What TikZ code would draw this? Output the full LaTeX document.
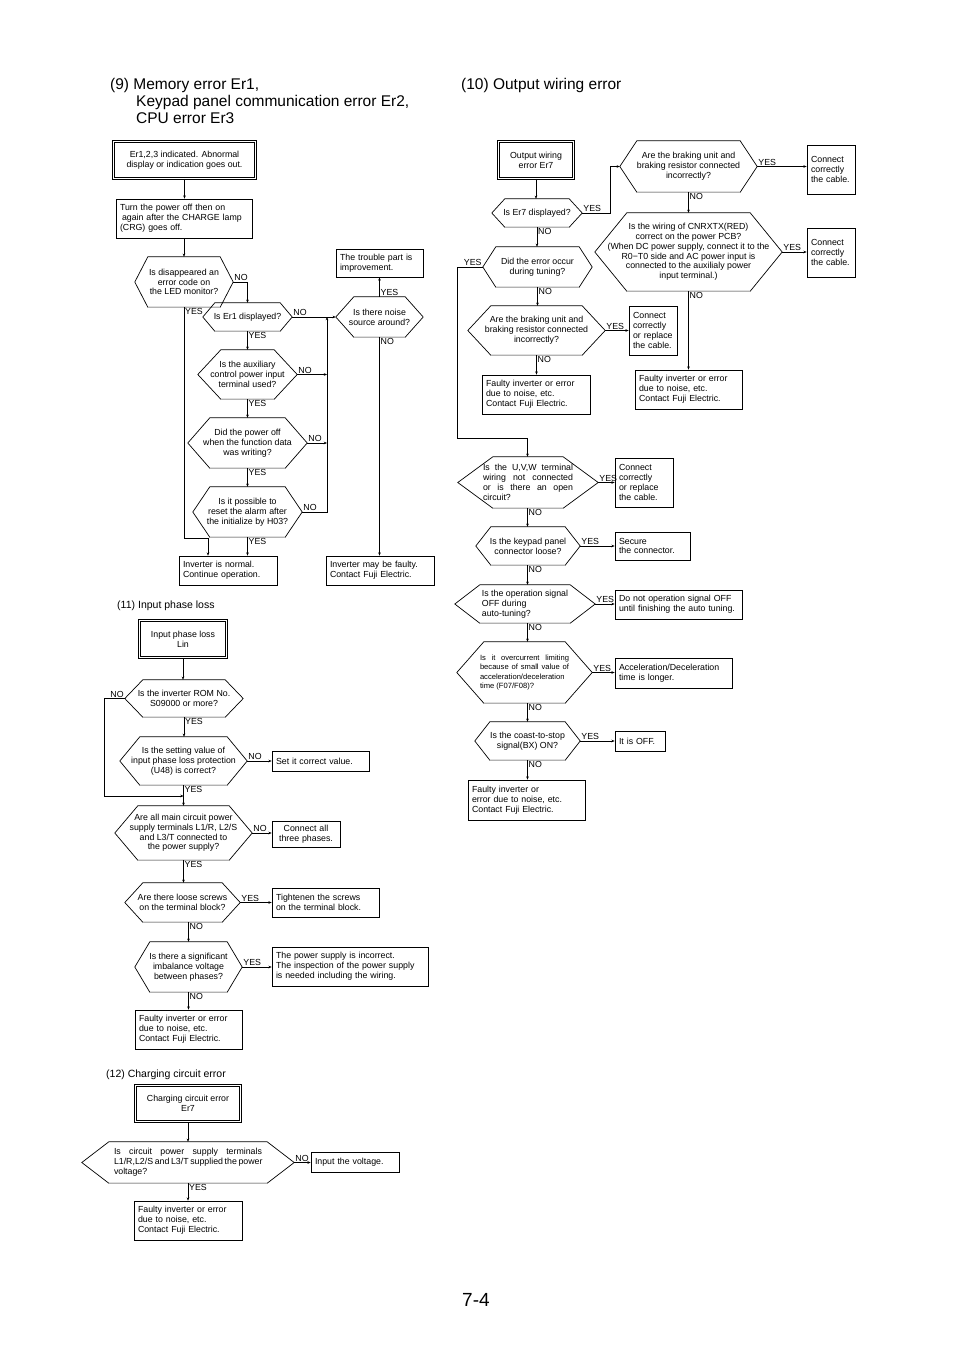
\documentclass[tikz,border=0pt]{standalone}
\usepackage{fontspec}
\setmainfont{Liberation Sans}
\usetikzlibrary{arrows.meta,calc}
\newcommand{\nf}{\fontsize{8.8}{9.8}\selectfont}
\newcommand{\smallnf}{\fontsize{7.6}{9.6}\selectfont}
\tikzset{
 boxl/.style={draw, line width=0.7pt, font=\nf, inner xsep=4pt, inner ysep=0pt, align=left},
 boxd/.style={draw, double, double distance=1.6pt, line width=0.6pt, font=\nf, inner sep=0pt, align=center},
 hextext/.style={font=\nf, inner sep=0pt, align=center},
 hexline/.style={line width=0.7pt, line join=miter},
 hexshade/.style={line width=1.3pt, gray!60},
 arr/.style={line width=0.7pt, -{Stealth[length=3.2pt,width=2.6pt]}},
 lbl/.style={font=\nf, inner sep=1pt},
 head/.style={font=\fontsize{15.5}{17}\selectfont, inner sep=0pt, anchor=base west},
 subhead/.style={font=\fontsize{10.5}{12}\selectfont, inner sep=0pt, anchor=base west},
}
\newcommand{\mybox}[7][]{%
 \pgfmathsetmacro{\myW}{#5-#3-8}%
 \pgfmathsetmacro{\myH}{#6-#4}%
 \pgfmathsetmacro{\myX}{(#3+#5)/2}%
 \pgfmathsetmacro{\myY}{(#4+#6)/2}%
 \node[boxl, text width=\myW pt, minimum height=\myH pt, #1] (#2) at (\myX,\myY) {#7};}
\newcommand{\mydbox}[6]{%
 \pgfmathsetmacro{\myW}{#4-#2-3}%
 \pgfmathsetmacro{\myH}{#5-#3-3}%
 \pgfmathsetmacro{\myX}{(#2+#4)/2}%
 \pgfmathsetmacro{\myY}{(#3+#5)/2}%
 \node[boxd, minimum width=\myW pt, minimum height=\myH pt] (#1) at (\myX,\myY) {#6};}
\newcommand{\myhex}[8][]{%
 \pgfmathsetmacro{\myW}{#5-#3}%
 \pgfmathsetmacro{\myH}{#6-#4}%
 \pgfmathsetmacro{\myX}{(#3+#5)/2}%
 \pgfmathsetmacro{\myY}{(#4+#6)/2}%
 \node[hextext, minimum width=\myW pt, minimum height=\myH pt, #1] (#2) at (\myX,\myY) {#8};
 \draw[hexline] (#2.west) -- ([xshift=#7pt]#2.north west) -- ([xshift=-#7pt]#2.north east) -- (#2.east) -- ([xshift=-#7pt]#2.south east) -- ([xshift=#7pt]#2.south west) -- cycle;
 \draw[hexshade] ([xshift=#7pt]#2.south west) -- ([xshift=-#7pt]#2.south east);}
\newcommand{\lab}[4]{\node[lbl, anchor=#2] (#1) at (#3) {#4};}
\begin{document}
\begin{tikzpicture}[x=1pt,y=-1pt]
\fill[white] (0,0) rectangle (954,1350);
\useasboundingbox (0,0) rectangle (954,1350);

% headings
\node[head] (h9a) at (110,89.5) {(9) Memory error Er1,};
\node[head] (h9b) at (136,106.5) {Keypad panel communication error Er2,};
\node[head] (h9c) at (136,123.5) {CPU error Er3};
\node[head] (h10) at (461,89.5) {(10) Output wiring error};
\node[subhead] (h11) at (117,608) {(11)\hspace{3pt}Input phase loss};
\node[subhead] (h12) at (106,1077) {(12) Charging circuit error};
\node[anchor=base west, inner sep=0pt, font=\fontsize{19}{22}\selectfont] (pg) at (462,1306) {7-4};

% ---------------- (9)
\mydbox{A1}{112}{140}{257}{180}{Er1,2,3 indicated. Abnormal\\display or indication goes out.}
\mybox{A2}{116}{199}{252}{238}{Turn the power off then on\\\hspace*{2pt}again after the CHARGE lamp\\(CRG) goes off.}
\myhex{D1}{135}{257}{233}{307}{13}{Is disappeared an\\error code on\\the LED monitor?}
\myhex{D2}{203}{303}{292}{331}{12}{Is Er1 displayed?}
\myhex{D3}{198}{350}{297}{399}{23}{Is the auxiliary\\control power input\\terminal used?}
\myhex{D4}{188}{418}{307}{468}{22}{Did the power off\\when the function data\\was writing?}
\myhex{D5}{193}{487}{302}{537}{17}{Is it possible to\\reset the alarm after\\the initialize by H03?}
\mybox{AN}{179}{556}{277}{585}{Inverter is normal.\\Continue operation.}
\myhex{NS}{336}{297}{423}{337}{18}{Is there noise\\source around?}
\mybox{TR}{336}{249}{423}{277}{The trouble part is\\improvement.}
\mybox{F9}{326}{556}{434}{585}{Inverter may be faulty.\\Contact Fuji Electric.}

\coordinate (j1) at (208,538);
\coordinate (col9) at (327,317);
\draw[arr] (A1.south) -- (A1.south |- A2.north);
\draw[arr] (A2.south) -- (A2.south |- D1.north);
\draw[arr] (D1.east) -| (D2.north);
\draw[arr] (D1.south) |- (j1) -- (j1 |- AN.north);
\draw[arr] (D2.south) -- (D3.north);
\draw[arr] (D3.south) -- (D4.north);
\draw[arr] (D4.south) -- (D5.north);
\draw[arr] (D5.south) -- (D5.south |- AN.north);
\draw[arr] (D2.east) -- (D2.east -| NS.west);
\draw[arr] (D3.east) -- (D3.east -| col9);
\draw[arr] (D4.east) -- (D4.east -| col9);
\draw[arr] (D5.east) -| (col9);
\draw[arr] (NS.north) -- (NS.north |- TR.south);
\draw[arr] (NS.south) -- (NS.south |- F9.north);

\lab{l1}{south west}{D1.east}{NO}
\lab{l2}{north west}{D1.south}{YES}
\lab{l3}{south west}{D2.east}{NO}
\lab{l4}{north west}{D2.south}{YES}
\lab{l5}{south west}{D3.east}{NO}
\lab{l6}{north west}{D3.south}{YES}
\lab{l7}{south west}{D4.east}{NO}
\lab{l8}{north west}{D4.south}{YES}
\lab{l9}{south west}{D5.east}{NO}
\lab{l10}{north west}{D5.south}{YES}
\lab{l11}{south west}{NS.north}{YES}
\lab{l12}{north west}{NS.south}{NO}

% ---------------- (11)
\mydbox{B1}{138}{619}{228}{659}{Input phase loss\\Lin}
\myhex{B2}{125}{680}{243}{717}{18}{Is the inverter ROM No.\\S09000 or more?}
\myhex{B3}{120}{737}{247}{785}{20}{Is the setting value of\\input phase loss protection\\(U48) is correct?}
\mybox{S1}{272}{751}{369}{771}{Set it correct value.}
\myhex{B4}{115}{806}{252}{860}{23}{Are all main circuit power\\supply terminals L1/R, L2/S\\and L3/T connected to\\the power supply?}
\mybox[align=center]{S2}{272}{821}{340}{847}{Connect all\\three phases.}
\myhex{B5}{125}{883}{240}{922}{18}{Are there loose screws\\on the terminal block?}
\mybox{S3}{272}{888}{379}{917}{Tightenen the screws\\on the terminal block.}
\myhex{B6}{135}{942}{242}{992}{15}{Is there a significant\\imbalance voltage\\between phases?}
\mybox{S4}{272}{947}{428}{986}{The power supply is incorrect.\\The inspection of the power supply\\is needed including the wiring.}
\mybox{B7}{135}{1010}{242}{1049}{Faulty inverter or error\\due to noise, etc.\\Contact Fuji Electric.}

\coordinate (k1) at (0,796);
\draw[arr] (B1.south) -- (B1.south |- B2.north);
\draw[arr] (B2.south) -- (B2.south |- B3.north);
\draw[arr] (B2.west) -- ++(-20,0) |- (B3.south |- k1);
\draw[arr] (B3.east) -- (B3.east -| S1.west);
\draw[arr] (B3.south) -- (B3.south |- B4.north);
\draw[arr] (B4.east) -- (B4.east -| S2.west);
\draw[arr] (B4.south) -- (B4.south |- B5.north);
\draw[arr] (B5.east) -- (B5.east -| S3.west);
\draw[arr] (B6.north |- B5.south) -- (B6.north);
\draw[arr] (B6.east) -- (B6.east -| S4.west);
\draw[arr] (B6.south) -- (B6.south |- B7.north);

\lab{m1}{south east}{B2.west}{NO}
\lab{m2}{north west}{B2.south}{YES}
\lab{m3}{south west}{B3.east}{NO}
\lab{m4}{north west}{B3.south}{YES}
\lab{m5}{south west}{B4.east}{NO}
\lab{m6}{north west}{B4.south}{YES}
\lab{m7}{south west}{B5.east}{YES}
\lab{m8}{north west}{B6.north |- B5.south}{NO}
\lab{m9}{south west}{B6.east}{YES}
\lab{m10}{north west}{B6.south}{NO}

% ---------------- (12)
\mydbox{C1}{134}{1084}{242}{1123}{Charging circuit error\\Er7}
\myhex{C2}{82}{1142}{294}{1183}{27}{\makebox[148pt][s]{Is circuit power supply terminals}\\\makebox[148pt][s]{L1/R,L2/S and L3/T supplied the power}\\\makebox[148pt][l]{voltage?}}
\mybox{C4}{311}{1152}{399}{1172}{Input the voltage.}
\mybox{C3}{134}{1201}{242}{1240}{Faulty inverter or error\\due to noise, etc.\\Contact Fuji Electric.}
\draw[arr] (C1.south) -- (C1.south |- C2.north);
\draw[arr] (C2.east) -- (C2.east -| C4.west);
\draw[arr] (C2.south) -- (C2.south |- C3.north);
\lab{n1}{south west}{C2.east}{NO}
\lab{n2}{north west}{C2.south}{YES}

% ---------------- (10)
\mydbox{E1}{497}{140}{575}{180}{Output wiring\\error Er7}
\myhex{E2}{492}{199}{582}{227}{13}{Is Er7 displayed?}
\myhex{E3}{620}{141}{757}{192}{17}{Are the braking unit and\\braking resistor connected\\incorrectly?}
\mybox{R1}{807}{145}{855}{194}{Connect\\correctly\\the cable.}
\myhex{E5}{595}{213}{782}{291}{32}{Is the wiring of CNRXTX(RED)\\correct on the power PCB?\\(When DC power supply, connect it to the\\R0−T0 side and AC power input is\\connected to the auxilialy power\\input terminal.)}
\mybox{R2}{807}{228}{855}{277}{Connect\\correctly\\the cable.}
\mybox{E6}{635}{370}{742}{409}{Faulty inverter or error\\due to noise, etc.\\Contact Fuji Electric.}
\myhex{E4}{483}{247}{592}{287}{13}{Did the error occur\\during tuning?}
\myhex{E7}{468}{306}{605}{355}{23}{Are the braking unit and\\braking resistor connected\\incorrectly?}
\mybox{R3}{629}{306}{677}{355}{Connect\\correctly\\or replace\\the cable.}
\mybox{E8}{482}{375}{590}{414}{Faulty inverter or error\\due to noise, etc.\\Contact Fuji Electric.}
\myhex{E9}{458}{457}{598}{508}{35}{\makebox[90pt][s]{Is the U,V,W terminal}\\\makebox[90pt][s]{wiring not connected}\\\makebox[90pt][s]{or is there an open}\\\makebox[90pt][l]{circuit?}}
\mybox{R4}{615}{458}{673}{507}{Connect\\correctly\\or replace\\the cable.}
\myhex{E10}{476}{527}{580}{565}{15}{Is the keypad panel\\connector loose?}
\mybox{R5}{615}{532}{690}{560}{Secure\\the connector.}
\myhex[align=left]{E11}{455}{585}{595}{623}{25}{Is the operation signal\\OFF during\\auto-tuning?}
\mybox{R6}{615}{590}{742}{619}{Do not operation signal OFF\\until finishing the auto tuning.}
\myhex[font=\smallnf]{E12}{457}{642}{592}{703}{27}{\makebox[89pt][s]{Is it overcurrent limiting}\\\makebox[89pt][s]{because of small value of}\\\makebox[89pt][l]{acceleration/deceleration}\\\makebox[89pt][l]{time (F07/F08)?}}
\mybox{R7}{615}{658}{732}{688}{Acceleration/Deceleration\\time is longer.}
\myhex{E13}{475}{722}{580}{760}{15}{Is the coast-to-stop\\signal(BX) ON?}
\mybox{R8}{615}{731}{665}{751}{It is OFF.}
\mybox{E14}{468}{780}{585}{820}{Faulty inverter or\\error due to noise, etc.\\Contact Fuji Electric.}

\coordinate (colE) at (527.5,0);
\coordinate (q1) at (0,438);
\draw[arr] (E1.south) -- (E1.south |- E2.north);
\draw[arr] (E2.east) -- ++(28,0) |- (E3.west);
\draw[arr] (E3.east) -- (E3.east -| R1.west);
\draw[arr] (E3.south) -- (E5.north);
\draw[arr] (E5.east) -- (E5.east -| R2.west);
\draw[arr] (E5.south) -- (E5.south |- E6.north);
\draw[arr] (E2.south) -- (E2.south |- E4.north);
\draw[arr] (E4.west) -- ++(-25,0) |- (colE |- q1) -- (colE |- E9.north);
\draw[arr] (E4.south) -- (E4.south |- E7.north);
\draw[arr] (E7.east) -- (E7.east -| R3.west);
\draw[arr] (E7.south) -- (E7.south |- E8.north);
\draw[arr] (E9.east) -- (E9.east -| R4.west);
\draw[arr] (colE |- E9.south) -- (colE |- E10.north);
\draw[arr] (E10.east) -- (E10.east -| R5.west);
\draw[arr] (colE |- E10.south) -- (colE |- E11.north);
\draw[arr] (E11.east) -- (E11.east -| R6.west);
\draw[arr] (colE |- E11.south) -- (colE |- E12.north);
\draw[arr] (E12.east) -- (E12.east -| R7.west);
\draw[arr] (colE |- E12.south) -- (colE |- E13.north);
\draw[arr] (E13.east) -- (E13.east -| R8.west);
\draw[arr] (colE |- E13.south) -- (colE |- E14.north);

\lab{p1}{south west}{E2.east}{YES}
\lab{p2}{north west}{E2.south}{NO}
\lab{p3}{south west}{E3.east}{YES}
\lab{p4}{north west}{E3.south}{NO}
\lab{p5}{south west}{E5.east}{YES}
\lab{p6}{north west}{E5.south}{NO}
\lab{p7}{south east}{E4.west}{YES}
\lab{p8}{north west}{E4.south}{NO}
\lab{p9}{south west}{E7.east}{YES}
\lab{p10}{north west}{E7.south}{NO}
\lab{p11}{south west}{E9.east}{YES}
\lab{p12}{north west}{colE |- E9.south}{NO}
\lab{p13}{south west}{E10.east}{YES}
\lab{p14}{north west}{colE |- E10.south}{NO}
\lab{p15}{south west}{E11.east}{YES}
\lab{p16}{north west}{colE |- E11.south}{NO}
\lab{p17}{south west}{E12.east}{YES}
\lab{p18}{north west}{colE |- E12.south}{NO}
\lab{p19}{south west}{E13.east}{YES}
\lab{p20}{north west}{colE |- E13.south}{NO}
\end{tikzpicture}
\end{document}
